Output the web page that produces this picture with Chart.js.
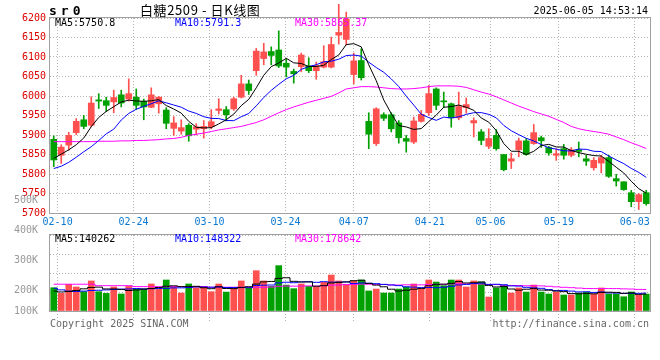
<!DOCTYPE html>
<html>
<head>
<meta charset="utf-8">
<script src="https://cdn.jsdelivr.net/npm/chart.js@4.4.1/dist/chart.umd.min.js"></script>
<style>
  body { margin: 0; background: #fff; }
  #wrap { position: relative; width: 660px; height: 360px; overflow: hidden; background: #fff;
          font-family: 'DejaVu Sans Mono', monospace; font-size: 10px; }
  canvas { position: absolute; left: 0; }
  .t { position: absolute; white-space: nowrap; line-height: 1; }
</style>
</head>
<body>
<div id="wrap">
  <canvas id="price" width="660" height="230" style="top:0"></canvas>
  <canvas id="vol" width="660" height="140" style="top:185px"></canvas>

  <div class="t" style="left:49px;top:4px;font-weight:bold;font-size:13px;letter-spacing:4px">sr0</div>
  <div class="t" style="left:140px;top:3px;font-family:'Noto Sans CJK SC';font-size:13px;letter-spacing:0.6px">白糖2509 - 日K线图</div>
  <div class="t" style="right:12px;top:6px">2025-06-05 14:53:14</div>

  <div class="t" id="ma5" style="left:55px;top:18px;color:#000"></div>
  <div class="t" id="ma10" style="left:175px;top:18px;color:#0000ff"></div>
  <div class="t" id="ma30" style="left:295px;top:18px;color:#ff00ff"></div>

  <div class="t" id="vma5" style="left:55px;top:234px;color:#000"></div>
  <div class="t" id="vma10" style="left:175px;top:234px;color:#0000ff"></div>
  <div class="t" id="vma30" style="left:295px;top:234px;color:#ff00ff"></div>

  <div class="t" style="left:50px;top:319px;color:#666">Copyright 2025 SINA.COM</div>
  <div class="t" style="right:11px;top:319px;color:#666">http://finance.sina.com.cn</div>
</div>

<script>
// trading days shown on the chart
const DATES = [
  '02-07', '02-10', '02-11', '02-12', '02-13', '02-14', '02-17', '02-18', '02-19', '02-20',
  '02-21', '02-24', '02-25', '02-26', '02-27', '02-28', '03-03', '03-04', '03-05', '03-06',
  '03-07', '03-10', '03-11', '03-12', '03-13', '03-14', '03-17', '03-18', '03-19', '03-20',
  '03-21', '03-24', '03-25', '03-26', '03-27', '03-28', '03-31', '04-01', '04-02', '04-03',
  '04-07', '04-08', '04-09', '04-10', '04-11', '04-14', '04-15', '04-16', '04-17', '04-18',
  '04-21', '04-22', '04-23', '04-24', '04-25', '04-28', '04-29', '04-30', '05-06', '05-07',
  '05-08', '05-09', '05-12', '05-13', '05-14', '05-15', '05-16', '05-19', '05-20', '05-21',
  '05-22', '05-23', '05-26', '05-27', '05-28', '05-29', '05-30', '06-03', '06-04', '06-05'
];
const TICK_DATES = ['02-10', '02-24', '03-10', '03-24', '04-07', '04-21', '05-06', '05-19', '06-03'];

// daily prices
const OPEN = [
  5889, 5848, 5874, 5906, 5939, 5925, 5990, 5988, 5985, 6003,
  5992, 5997, 5986, 5971, 5980, 5964, 5917, 5910, 5925, 5915,
  5916, 5921, 5963, 5965, 5967, 5997, 6031, 6065, 6096, 6114,
  6118, 6084, 6063, 6075, 6077, 6065, 6074, 6074, 6156, 6145,
  6055, 6091, 5935, 5878, 5952, 5952, 5931, 5891, 5882, 5935,
  5957, 6018, 5987, 5980, 5944, 5970, 5931, 5908, 5871, 5899,
  5850, 5833, 5862, 5885, 5878, 5893, 5868, 5848, 5865, 5848,
  5862, 5839, 5816, 5828, 5842, 5788, 5780, 5752, 5729, 5752
];
const HIGH = [
  5898, 5875, 5907, 5942, 5950, 5998, 6006, 5997, 6015, 6015,
  6044, 6018, 5992, 6021, 5999, 5970, 5947, 5939, 5929, 5929,
  5937, 5965, 5993, 5973, 5997, 6053, 6041, 6122, 6135, 6126,
  6167, 6095, 6069, 6110, 6098, 6087, 6129, 6151, 6235, 6215,
  6110, 6121, 5957, 5970, 5957, 5957, 5937, 5899, 5946, 5963,
  6027, 6021, 6010, 5982, 6010, 5995, 5944, 5914, 5916, 5914,
  5850, 5854, 5892, 5891, 5927, 5897, 5871, 5865, 5876, 5868,
  5882, 5848, 5842, 5848, 5848, 5799, 5780, 5758, 5750, 5758
];
const LOW = [
  5819, 5827, 5861, 5901, 5916, 5921, 5968, 5960, 5957, 5972,
  5987, 5966, 5939, 5970, 5956, 5916, 5899, 5902, 5884, 5900,
  5892, 5916, 5954, 5936, 5963, 5995, 6004, 6053, 6080, 6080,
  6073, 6049, 6033, 6062, 6060, 6043, 6072, 6072, 6133, 6131,
  6031, 6041, 5865, 5873, 5937, 5908, 5879, 5856, 5878, 5933,
  5950, 5965, 5970, 5920, 5939, 5956, 5895, 5875, 5865, 5861,
  5808, 5814, 5844, 5848, 5876, 5868, 5848, 5835, 5838, 5844,
  5844, 5822, 5810, 5803, 5791, 5769, 5758, 5716, 5709, 5720
];
const CLOSE = [
  5836, 5869, 5899, 5935, 5922, 5982, 5987, 5976, 5996, 5982,
  6006, 5976, 5972, 6003, 5997, 5930, 5931, 5919, 5898, 5921,
  5922, 5934, 5967, 5952, 5993, 6031, 6014, 6115, 6113, 6104,
  6077, 6074, 6057, 6105, 6065, 6078, 6088, 6132, 6163, 6198,
  6090, 6047, 5902, 5967, 5943, 5916, 5893, 5884, 5936, 5953,
  6006, 5976, 5985, 5944, 5973, 5978, 5937, 5886, 5891, 5865,
  5811, 5839, 5885, 5850, 5906, 5885, 5854, 5852, 5848, 5862,
  5858, 5833, 5835, 5842, 5794, 5782, 5760, 5729, 5747, 5724
];

// moving averages
const MA5 = [
  5840, 5851, 5862, 5875, 5892.2, 5921.4, 5945, 5960.4, 5972.6, 5984.6,
  5989.4, 5987.2, 5986.4, 5987.8, 5990.8, 5975.6, 5966.6, 5956, 5935, 5919.8,
  5918.2, 5918.8, 5928.4, 5939.2, 5953.6, 5975.4, 5991.4, 6021, 6053.2, 6075.4,
  6084.6, 6096.6, 6085, 6083.4, 6075.6, 6075.8, 6078.6, 6093.6, 6105.2, 6131.8,
  6134.2, 6126, 6080, 6039.2, 5989.8, 5955, 5924.2, 5920.6, 5914.4, 5916.4,
  5934.4, 5951, 5971.2, 5972.8, 5976.8, 5971.2, 5963.4, 5943.6, 5933, 5911.4,
  5878, 5858.4, 5858.2, 5850, 5858.2, 5873, 5876, 5869.4, 5869, 5860.2,
  5854.8, 5850.6, 5847.2, 5846, 5832.4, 5817.2, 5802.6, 5781.4, 5762.4, 5750.8
];
const MA10 = [
  5814, 5820, 5830, 5843, 5857, 5870, 5886, 5903, 5915, 5938.4,
  5955.4, 5966.1, 5973.4, 5980.2, 5987.7, 5982.5, 5976.9, 5971.2, 5961.4, 5955.3,
  5946.9, 5942.7, 5942.2, 5937.1, 5936.7, 5946.8, 5955.1, 5974.7, 5996.2, 6014.5,
  6030, 6044, 6053, 6068.3, 6075.5, 6080.2, 6087.6, 6089.3, 6094.3, 6103.7,
  6105, 6102.3, 6086.8, 6073, 6060.8, 6043.8, 6024.3, 5999.5, 5976.8, 5953.1,
  5944.7, 5937.6, 5945.9, 5943.6, 5946.6, 5952.8, 5957.2, 5957.4, 5952.9, 5944.1,
  5924.6, 5910.9, 5900.9, 5891.5, 5884.8, 5875.5, 5867.2, 5863.8, 5859.5, 5859.2,
  5863.9, 5863.3, 5858.3, 5857.5, 5846.3, 5836, 5826.6, 5814.3, 5804.2, 5791.3
];
const MA30 = [
  5883, 5883, 5883, 5883, 5883, 5883, 5884, 5884, 5884, 5885,
  5885, 5886, 5886, 5887, 5888, 5890, 5891, 5894, 5899, 5902,
  5905, 5909, 5913, 5916, 5919, 5922, 5927, 5932, 5939, 5948,
  5957, 5965, 5972, 5978, 5984, 5989, 5994, 5999, 6008, 6018,
  6021, 6024, 6024, 6023, 6021, 6019, 6018, 6018, 6019, 6021,
  6024, 6026, 6026, 6026, 6025, 6022, 6016, 6010, 6005, 5998,
  5990, 5982, 5974, 5967, 5960, 5954, 5948, 5940, 5932, 5922,
  5916, 5912, 5909, 5906, 5902, 5895, 5888, 5880, 5873, 5865.37
];

// volume, in thousands of lots
const VOLUME = [
  193, 146, 221, 199, 160, 249, 160, 146, 199, 141,
  204, 182, 182, 224, 182, 257, 199, 149, 224, 193,
  199, 160, 224, 157, 188, 249, 188, 334, 249, 204,
  376, 215, 185, 224, 204, 199, 238, 298, 249, 221,
  249, 257, 166, 182, 149, 149, 182, 199, 224, 182,
  257, 240, 210, 257, 257, 199, 249, 240, 116, 191,
  215, 149, 191, 157, 215, 157, 141, 157, 133, 133,
  149, 157, 141, 191, 141, 141, 118, 158, 133, 140
];
const VOL_MA5 = [
  165, 158, 162, 170, 183.8, 195, 197.8, 182.8, 182.8, 179,
  170, 174.4, 181.6, 186.6, 194.8, 205.4, 208.8, 202.2, 202.2, 204.4,
  192.8, 185, 200, 186.6, 185.6, 195.6, 201.2, 223.2, 241.6, 244.8,
  270.2, 275.6, 245.8, 240.8, 240.8, 205.4, 210, 232.6, 237.6, 241,
  251, 254.8, 228.4, 215, 200.6, 180.6, 165.6, 172.2, 180.6, 187.2,
  208.8, 220.4, 222.6, 229.2, 244.2, 232.6, 234.4, 240.4, 212.2, 199,
  202.2, 182.2, 172.4, 180.6, 185.4, 173.8, 172.2, 165.4, 160.6, 144.2,
  142.6, 145.8, 142.6, 154.2, 155.8, 154.2, 146.4, 149.4, 138, 140.262
];
const VOL_MA10 = [
  188, 175, 165, 162, 165, 170, 172, 175, 178, 181.4,
  182.5, 186.1, 182.2, 184.7, 186.9, 187.7, 191.6, 191.9, 194.4, 199.6,
  199.1, 196.9, 201.1, 194.4, 195, 194.2, 193.1, 211.6, 214.1, 215.2,
  232.9, 238.4, 234.5, 241.2, 242.8, 237.8, 242.8, 239.2, 239.2, 240.9,
  228.2, 232.4, 230.5, 226.3, 220.8, 215.8, 210.2, 200.3, 197.8, 193.9,
  194.7, 193, 197.4, 204.9, 215.7, 220.7, 227.4, 231.5, 220.7, 221.6,
  217.4, 208.3, 206.4, 196.4, 192.2, 188, 177.2, 168.9, 170.6, 164.8,
  158.2, 159, 154, 157.4, 150, 148.4, 146.1, 146.2, 146, 148.322
];
const VOL_MA30 = [
  222, 222, 222, 222, 222, 222, 210, 210, 210, 210,
  210, 202, 202, 202, 202, 202, 202, 202, 202, 202,
  202, 197, 197, 197, 197, 197, 197, 197, 197, 198.7,
  204.8, 207.1, 205.9, 206.8, 208.2, 206.6, 209.2, 214.2, 215.9, 218.6,
  220.1, 222.6, 222, 220.6, 219.5, 215.9, 215.4, 217, 217, 216.7,
  218.6, 221.3, 220.8, 224.1, 226.4, 224.8, 226.8, 223.7, 219.2, 218.8,
  213.4, 211.2, 211.4, 209.2, 209.6, 208.2, 204.9, 200.2, 196.4, 193.4,
  190.1, 186.8, 185.9, 186.2, 186, 185.7, 183.5, 182.1, 179.1, 178.642
];

// axis labels of the volume panel (Sina clamps the lowest one to the bottom)
const VOL_TICK_VALUES = [100, 200, 300, 400, 500];
const VOL_TICK_LABELS = ['100K', '200K', '300K', '400K', '500K'];

const RED = '#ff5050';
const GREEN = '#00a000';
const GRID = '#b4b4b4';
const MONO = { family: 'DejaVu Sans Mono', size: 10 };

const candleColors = OPEN.map((o, i) => (CLOSE[i] >= o ? RED : GREEN));
const last = (arr) => arr[arr.length - 1];

document.getElementById('ma5').textContent = 'MA5:' + last(MA5).toFixed(1);
document.getElementById('ma10').textContent = 'MA10:' + last(MA10).toFixed(1);
document.getElementById('ma30').textContent = 'MA30:' + last(MA30).toFixed(2);
document.getElementById('vma5').textContent = 'MA5:' + Math.round(last(VOL_MA5) * 1000);
document.getElementById('vma10').textContent = 'MA10:' + Math.round(last(VOL_MA10) * 1000);
document.getElementById('vma30').textContent = 'MA30:' + Math.round(last(VOL_MA30) * 1000);

// grey frame round each panel
const framePlugin = {
  id: 'frame',
  beforeDatasetsDraw(chart) {
    const a = chart.chartArea;
    const c = chart.ctx;
    c.save();
    c.strokeStyle = '#a0a0a0';
    c.lineWidth = 1;
    c.strokeRect(Math.round(a.left) - 0.5, Math.round(a.top) - 0.5,
                 Math.round(a.width) + 1, Math.round(a.height) + 1);
    c.restore();
  }
};

// candles sit in the hidden category axis; the date grid is a second axis
// that spreads the day index over the full panel width, as Sina does
function dateAxis(showLabels, tickLength, height) {
  return {
    type: 'linear',
    position: 'bottom',
    offset: false,
    min: 0,
    max: DATES.length - 1,
    afterBuildTicks: (s) => {
      s.ticks = TICK_DATES.map((d) => ({ value: DATES.indexOf(d) }));
    },
    grid: {
      offset: false,
      color: GRID,
      drawTicks: tickLength > 0,
      tickLength: tickLength,
      tickColor: GRID,
      tickBorderDash: [1, 2],
      borderDash: [1, 2]
    },
    border: { display: false, dash: [1, 2] },
    ticks: {
      display: showLabels,
      autoSkip: false,
      maxRotation: 0,
      padding: 3,
      color: '#0a78d2',
      font: MONO,
      callback: (v) => DATES[v]
    },
    afterFit: (s) => { s.height = height; }
  };
}

function maLine(label, data, color, axis, stepped) {
  return {
    type: 'line', label, data, yAxisID: axis,
    borderColor: color, borderWidth: 1, pointRadius: 0,
    tension: 0, stepped: stepped, order: 0
  };
}

// price panel
new Chart(document.getElementById('price'), {
  type: 'bar',
  data: {
    labels: DATES,
    datasets: [
      maLine('MA5', MA5, '#000000', 'y', false),
      maLine('MA10', MA10, '#0000ff', 'y', false),
      maLine('MA30', MA30, '#ff00ff', 'y', false),
      {
        label: 'wick', data: LOW.map((l, i) => [l, HIGH[i]]), yAxisID: 'y',
        backgroundColor: candleColors, barThickness: 1, grouped: false, clip: false, order: 2
      },
      {
        label: 'body', data: OPEN.map((o, i) => [o, CLOSE[i]]), yAxisID: 'y',
        backgroundColor: candleColors, barThickness: 6, minBarLength: 1,
        grouped: false, clip: false, order: 1
      }
    ]
  },
  options: {
    responsive: false,
    animation: false,
    layout: { padding: { top: 18, right: 10, left: 0, bottom: 0 } },
    plugins: { legend: { display: false }, tooltip: { enabled: false } },
    scales: {
      x: { type: 'category', display: false, offset: true },
      days: dateAxis(true, 0, 17),
      y: {
        min: 5700, max: 6200,
        grid: { color: GRID, drawTicks: false, borderDash: [1, 2] },
        border: { display: false, dash: [1, 2] },
        ticks: {
          stepSize: 50, color: '#dd0000', font: MONO, padding: 4, autoSkip: false,
          callback: (v) => String(v)
        },
        afterFit: (s) => { s.width = 50; }
      }
    }
  },
  plugins: [framePlugin]
});

// volume panel
new Chart(document.getElementById('vol'), {
  type: 'bar',
  data: {
    labels: DATES,
    datasets: [
      maLine('MA5', VOL_MA5, '#000000', 'v', 'middle'),
      maLine('MA10', VOL_MA10, '#0000ff', 'v', 'middle'),
      maLine('MA30', VOL_MA30, '#ff00ff', 'v', 'middle'),
      {
        label: 'volume', data: VOLUME, yAxisID: 'v',
        backgroundColor: candleColors, barThickness: 6, order: 1
      }
    ]
  },
  options: {
    responsive: false,
    animation: false,
    layout: { padding: { top: 50, right: 0, left: 0, bottom: 4 } },
    plugins: { legend: { display: false }, tooltip: { enabled: false } },
    scales: {
      x: { type: 'category', display: false, offset: true },
      days: dateAxis(false, 10, 10),
      v: {
        position: 'right',
        min: 0, max: 630,
        afterBuildTicks: (s) => { s.ticks = [0, 157.5, 315, 472.5, 630].map((value) => ({ value })); },
        grid: { color: GRID, drawTicks: false, borderDash: [1, 2] },
        border: { display: false, dash: [1, 2] },
        ticks: { display: false },
        afterFit: (s) => { s.width = 10; }
      },
      lab: {
        position: 'left',
        min: 132, max: 384,
        afterBuildTicks: (s) => {
          s.ticks = VOL_TICK_VALUES.map((v) => ({ value: Math.max(v, s.min) }));
        },
        grid: { display: false },
        border: { display: false },
        ticks: {
          autoSkip: false, color: '#999999', font: MONO, padding: 4,
          callback: (v, i) => VOL_TICK_LABELS[i]
        },
        afterFit: (s) => { s.width = 50; }
      }
    }
  },
  plugins: [framePlugin]
});
</script>
</body>
</html>
